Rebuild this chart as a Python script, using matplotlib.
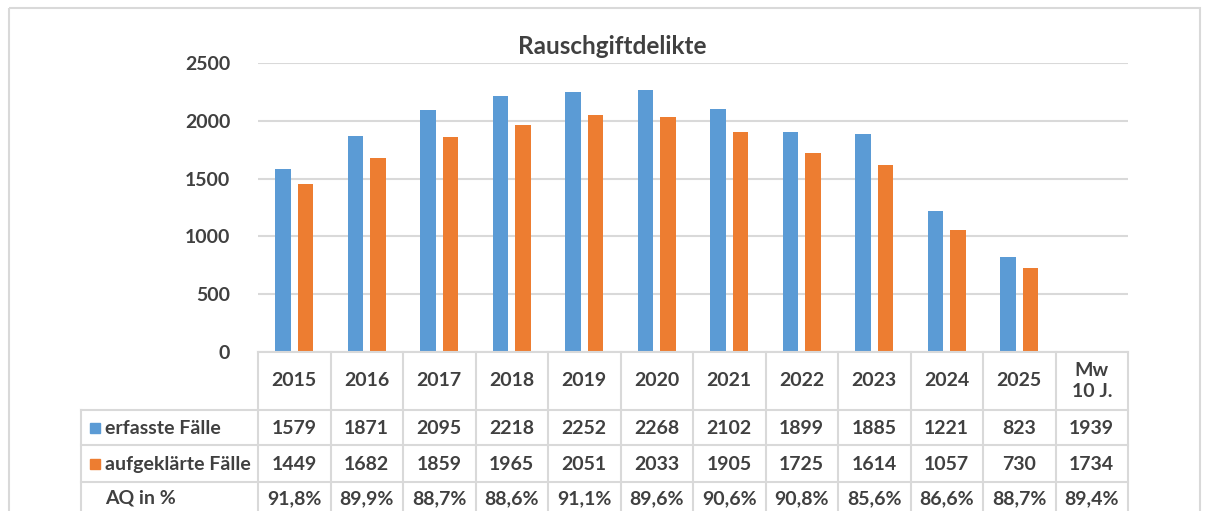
import numpy as np
import matplotlib.pyplot as plt
from matplotlib.patches import Rectangle

plt.rcParams['font.family'] = ['Lato', 'DejaVu Sans']

# Daten
kategorien = ['2015', '2016', '2017', '2018', '2019', '2020', '2021', '2022',
              '2023', '2024', '2025', 'Mw\n10 J.']
erfasst = [1579, 1871, 2095, 2218, 2252, 2268, 2102, 1899, 1885, 1221, 823]
aufgeklaert = [1449, 1682, 1859, 1965, 2051, 2033, 1905, 1725, 1614, 1057, 730]
erfasst_tab = ['1579', '1871', '2095', '2218', '2252', '2268', '2102', '1899',
               '1885', '1221', '823', '1939']
aufgeklaert_tab = ['1449', '1682', '1859', '1965', '2051', '2033', '1905', '1725',
                   '1614', '1057', '730', '1734']
aq_tab = ['91,8%', '89,9%', '88,7%', '88,6%', '91,1%', '89,6%', '90,6%', '90,8%',
          '85,6%', '86,6%', '88,7%', '89,4%']
zeilen = ['erfasste Fälle', 'aufgeklärte Fälle', 'AQ in %']

blau = '#5B9BD5'
orange = '#ED7D31'
grau = '#D9D9D9'
text = '#404040'

W, H = 1216, 511
fig = plt.figure(figsize=(W / 100, H / 100), dpi=100)

# Hintergrund-Achse in Pixelkoordinaten fuer Rahmen und Tabelle
bg = fig.add_axes([0, 0, 1, 1], zorder=0)
bg.set_xlim(0, W)
bg.set_ylim(H, 0)
bg.axis('off')

bg.add_patch(Rectangle((9, 8), 1191, 520, fill=False, ec=grau, lw=1.5))
bg.text(612, 47, 'Rauschgiftdelikte', ha='center', va='center', fontsize=17.5,
        fontweight='bold', color=text)

# Diagramm
x0, x1, y0, y1 = 258, 1128, 352, 63
ax = fig.add_axes([x0 / W, 1 - y0 / H, (x1 - x0) / W, (y0 - y1) / H], zorder=1)
ax.patch.set_alpha(0)
n = len(kategorien)
x = np.arange(len(erfasst))
ax.bar(x - 0.155, erfasst, width=0.22, color=blau, zorder=2)
ax.bar(x + 0.155, aufgeklaert, width=0.22, color=orange, zorder=2)
ax.set_xlim(-0.5, n - 0.5)
ax.set_ylim(0, 2500)
ax.set_yticks(range(0, 2501, 500))
ax.yaxis.grid(True, color=grau, lw=1.5, zorder=0)
ax.set_xticks([])
for s in ['left', 'right', 'top']:
    ax.spines[s].set_visible(False)
ax.spines['bottom'].set_color(grau)
ax.spines['bottom'].set_linewidth(1.5)
ax.tick_params(axis='y', length=0, pad=20, labelsize=14, labelcolor=text)
for t in ax.get_yticklabels():
    t.set_fontweight('bold')

# Datentabelle
cw = (x1 - x0) / n
zeilen_y = [352, 410, 445, 482, 530]
lab_x = 81
for i in range(n + 1):
    bg.plot([x0 + i * cw] * 2, [352, 530], color=grau, lw=1.5)
bg.plot([lab_x, lab_x], [410, 530], color=grau, lw=1.5)
for yy in zeilen_y[1:4]:
    bg.plot([lab_x, x1], [yy, yy], color=grau, lw=1.5)

fs = 14
for i, k in enumerate(kategorien):
    cx = x0 + (i + 0.5) * cw
    bg.text(cx, 381, k, ha='center', va='center', fontsize=fs, fontweight='bold',
            color=text, linespacing=1.35)
    for r, werte in enumerate([erfasst_tab, aufgeklaert_tab, aq_tab]):
        cy = (zeilen_y[r + 1] + min(zeilen_y[r + 2], 511)) / 2 + (1 if r < 2 else 2)
        bg.text(cx, cy, werte[i], ha='center', va='center', fontsize=fs,
                fontweight='bold', color=text)

for r, (name, farbe) in enumerate(zip(zeilen, [blau, orange, None])):
    cy = (zeilen_y[r + 1] + min(zeilen_y[r + 2], 511)) / 2 + (1 if r < 2 else 2)
    if farbe:
        bg.add_patch(Rectangle((90, cy - 5), 10, 10, color=farbe))
    bg.text(105, cy, name, ha='left', va='center', fontsize=fs, fontweight='bold',
            color=text)

fig.savefig('out.png', dpi=100)
